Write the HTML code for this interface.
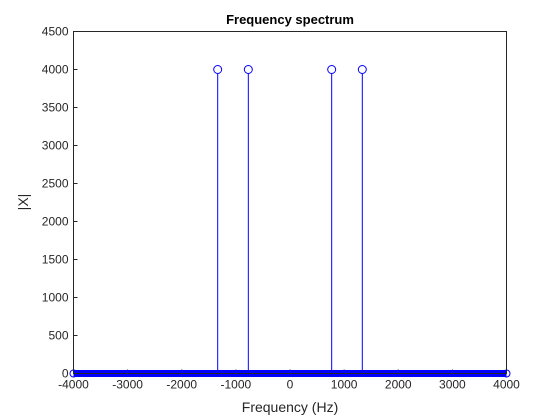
<!DOCTYPE html>
<html><head><meta charset="utf-8"><style>
body{margin:0;background:#fff;}
svg{display:block;font-family:"Liberation Sans",Arial,sans-serif;}
</style></head><body>
<svg id="chart" width="560" height="420">
<rect x="0" y="0" width="560" height="420" fill="#fff"/>
<rect x="73.5" y="31.5" width="433" height="342" fill="#fff"/>
<g id="grid"></g>
<g id="marks"></g>
<rect x="73.5" y="31.5" width="433" height="342" fill="none" stroke="#262626" stroke-width="1"/>
<text x="290" y="24" text-anchor="middle" font-size="13" font-weight="bold" fill="#000">Frequency spectrum</text>
<text x="290" y="412" text-anchor="middle" font-size="14" fill="#262626">Frequency (Hz)</text>
<text transform="translate(28,202) rotate(-90)" text-anchor="middle" font-size="14" fill="#262626">|X|</text>
</svg>
<script>
const stemFreqs = [-1336, -770, 770, 1336];
const stemMags = [4000, 4000, 4000, 4000];
const xTicks = [-4000, -3000, -2000, -1000, 0, 1000, 2000, 3000, 4000];
const yTicks = [0, 500, 1000, 1500, 2000, 2500, 3000, 3500, 4000, 4500];
const X0 = 73.5, X1 = 506.5, Y0 = 373.5, Y1 = 31.5;
function xs(v){ return X0 + (v + 4000) / 8000 * (X1 - X0); }
function ys(v){ return Y0 - v / 4500 * (Y0 - Y1); }
const NS = "http://www.w3.org/2000/svg";
const g = document.getElementById('grid');
const m = document.getElementById('marks');
function mk(tag, attrs, parent){ const e = document.createElementNS(NS, tag); for (const k in attrs) e.setAttribute(k, attrs[k]); parent.appendChild(e); return e; }
xTicks.forEach(t => {
  const x = xs(t);
  const tk = mk('line', {x1:x, x2:x, y1:Y0, y2:Y0-4, stroke:'#262626'}, g);
  
  
  const tx = mk('text', {x:x, y:Y0+15, 'text-anchor':'middle', 'font-size':12, fill:'#262626'}, g);
  tx.textContent = t;
  
  
});
yTicks.forEach(t => {
  const y = ys(t);
  const tk = mk('line', {x1:X0, x2:X0+4, y1:y, y2:y, stroke:'#262626'}, g);
  
  
  const tx = mk('text', {x:X0-5, y:y+4, 'text-anchor':'end', 'font-size':12, fill:'#262626'}, g);
  tx.textContent = t;
  
  
});
// zero-valued bins drawn as dense circles along baseline
const band = mk('line', {x1:xs(-4000), x2:xs(4000), y1:ys(0), y2:ys(0), stroke:'#0000ff', 'stroke-width':7}, m);


[-4000, 4000].forEach(f => {
  const c = mk('circle', {cx:xs(f), cy:ys(0), r:3.5, fill:'none', stroke:'#0000ff'}, m);
  
  
});
stemFreqs.forEach((f, i) => {
  const x = xs(f);
  const l = mk('line', {x1:x, x2:x, y1:ys(0), y2:ys(stemMags[i]) + 4, stroke:'#0000ff', 'stroke-width':1}, m);
  
  
  const c = mk('circle', {cx:x, cy:ys(stemMags[i]), r:4, fill:'none', stroke:'#0000ff', 'stroke-width':1}, m);
  
  
});
</script>
</body></html>
